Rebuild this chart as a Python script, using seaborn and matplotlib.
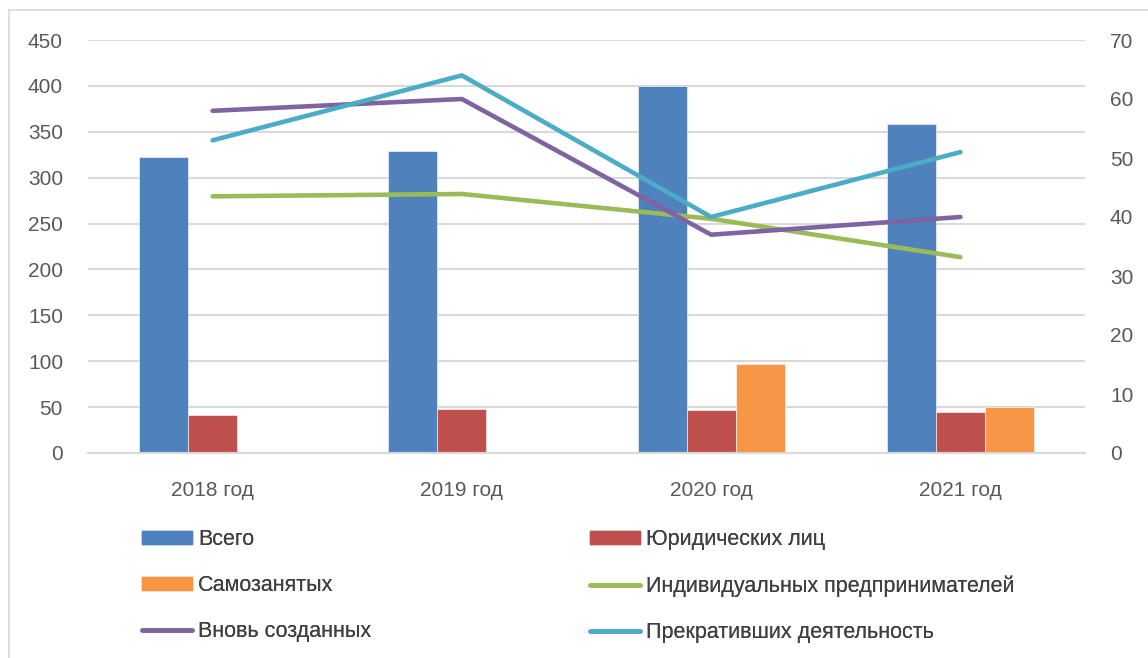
import numpy as np
import pandas as pd
import seaborn as sns
import matplotlib.pyplot as plt
from matplotlib.patches import Patch
from matplotlib.lines import Line2D

sns.set_style('white')
plt.rcParams['font.family'] = ['Liberation Sans', 'DejaVu Sans']

# данные
years = ['2018 год', '2019 год', '2020 год', '2021 год']
vsego = [322, 329, 400, 358]
yur_lic = [41, 48, 47, 45]
samozan = [np.nan, np.nan, 97, 50]
ip = [43.5, 43.9, 39.7, 33.2]
vnov = [58, 60, 37, 40]
prekr = [53, 64, 40, 51]

bar_names = ['Всего', 'Юридических лиц', 'Самозанятых']
line_names = ['Индивидуальных предпринимателей', 'Вновь созданных', 'Прекративших деятельность']
bar_colors = ['#4F81BD', '#C0504D', '#F79646']
line_colors = ['#9BBB59', '#8064A2', '#4BACC6']

df_bar = pd.DataFrame({'год': years, bar_names[0]: vsego,
                       bar_names[1]: yur_lic, bar_names[2]: samozan})
df_melt = df_bar.melt(id_vars='год', var_name='ряд', value_name='значение')

df_line = pd.DataFrame({'x': np.arange(len(years)), line_names[0]: ip,
                        line_names[1]: vnov, line_names[2]: prekr})
df_line_melt = df_line.melt(id_vars='x', var_name='ряд', value_name='значение')

fig = plt.figure(figsize=(11.48, 6.58), dpi=100)
ax1 = fig.add_axes([88 / 1148, 1 - 453 / 658, 997 / 1148, 413 / 658])

sns.barplot(data=df_melt, x='год', y='значение', hue='ряд', hue_order=bar_names,
            palette=bar_colors, saturation=1, width=0.59, gap=0, ax=ax1, legend=False,
            edgecolor='white', linewidth=0.4)

ax2 = ax1.twinx()
sns.lineplot(data=df_line_melt, x='x', y='значение', hue='ряд', hue_order=line_names,
             palette=line_colors, linewidth=3.3, ax=ax2, legend=False,
             solid_capstyle='round', sort=False)

ax1.set_xlim(-0.5, 3.5)
ax1.set_ylim(0, 450)
ax1.set_yticks(range(0, 451, 50))
ax2.set_ylim(0, 70)
ax2.set_yticks(range(0, 71, 10))
ax1.set_xlabel('')
ax1.set_ylabel('')
ax2.set_xlabel('')
ax2.set_ylabel('')

ax1.yaxis.grid(True, color='#D9D9D9', linewidth=1.5)
ax1.set_axisbelow(True)
for ax in (ax1, ax2):
    for s in ax.spines.values():
        s.set_visible(False)
ax1.spines['bottom'].set_visible(True)
ax1.spines['bottom'].set_color('#D9D9D9')
ax1.spines['bottom'].set_linewidth(1.5)

fs = 15
ax1.tick_params(axis='y', length=0, pad=18, labelsize=fs, labelcolor='#595959')
ax1.tick_params(axis='x', length=0, pad=20, labelsize=fs, labelcolor='#595959')
ax2.tick_params(axis='y', length=0, pad=18, labelsize=fs, labelcolor='#595959')

def line_handle(c):
    return Line2D([], [], color=c, linewidth=3.3, solid_capstyle='round')

legend_cols = [
    ([Patch(color=bar_colors[0]), Patch(color=bar_colors[2]), line_handle(line_colors[1])],
     [bar_names[0], bar_names[2], line_names[1]], 142),
    ([Patch(color=bar_colors[1]), line_handle(line_colors[0]), line_handle(line_colors[2])],
     [bar_names[1], line_names[0], line_names[2]], 590),
]
for h, l, x0 in legend_cols:
    leg = fig.legend(h, l, loc='upper left', bbox_to_anchor=(x0 / 1148, 1 - 529 / 658),
                     frameon=False, fontsize=15.5, labelcolor='#404040',
                     handlelength=2.3, handleheight=0.56, handletextpad=0.3,
                     labelspacing=1.17, borderaxespad=0, borderpad=0)
    fig.add_artist(leg)

# рамка диаграммы
fig.add_artist(Line2D([9 / 1148, 9 / 1148], [0, 1 - 10 / 658], color='#D9D9D9',
                      linewidth=1.2, transform=fig.transFigure))
fig.add_artist(Line2D([9 / 1148, 1], [1 - 10 / 658, 1 - 10 / 658], color='#D9D9D9',
                      linewidth=1.2, transform=fig.transFigure))

fig.savefig('out.png', dpi=100)
